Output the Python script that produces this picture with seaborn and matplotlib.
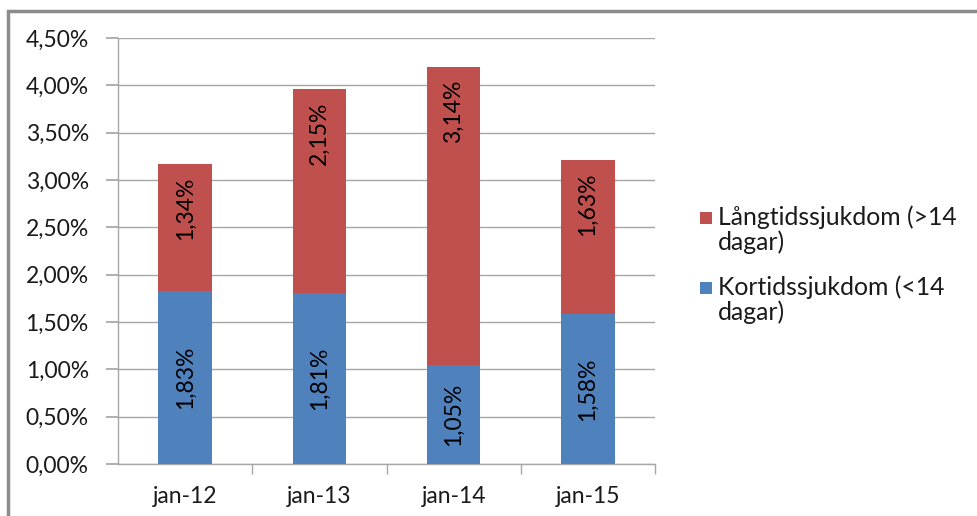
import matplotlib
matplotlib.use("Agg")
import matplotlib.pyplot as plt
import seaborn as sns
import pandas as pd
from matplotlib.patches import Rectangle
from matplotlib.ticker import MultipleLocator, FuncFormatter

categories = ["jan-12", "jan-13", "jan-14", "jan-15"]
kort = [1.83, 1.81, 1.05, 1.58]
lang = [1.34, 2.15, 3.14, 1.63]
series_names = ["Långtidssjukdom (>14\ndagar)", "Kortidssjukdom (<14\ndagar)"]

BLUE = "#4F81BD"
RED = "#C0504D"

sns.set_theme(style="white")
plt.rcParams["font.family"] = ["Lato", "DejaVu Sans"]

df = pd.DataFrame({"cat": categories, "kort": kort, "lang": lang})
df["total"] = df["kort"] + df["lang"]

W, H = 978, 516
fig = plt.figure(figsize=(W/100, H/100), dpi=100)
ax = fig.add_axes([118/W, 1-464/H, (655-118)/W, (464-38)/H])

sns.barplot(data=df, x="cat", y="total", color=RED, saturation=1, width=0.4, ax=ax,
            zorder=3, linewidth=0)
sns.barplot(data=df, x="cat", y="kort", color=BLUE, saturation=1, width=0.4, ax=ax,
            zorder=3, linewidth=0)

FS = 16.5
for i, (k, l) in enumerate(zip(kort, lang)):
    ax.text(i, k/2, f"{k:.2f}%".replace(".", ","), rotation=90, ha="center", va="center",
            fontsize=FS, color="black", zorder=4)
    ax.annotate(f"{l:.2f}%".replace(".", ","), xy=(i, k + l), xytext=(0, -9),
                textcoords="offset points", rotation=90, ha="center", va="top",
                fontsize=FS, color="black", zorder=4)

ax.set_ylim(0, 4.5)
ax.set_xlim(-0.5, 3.5)
ax.yaxis.set_major_locator(MultipleLocator(0.5))
ax.yaxis.set_major_formatter(FuncFormatter(lambda v, p: f"{v:.2f}%".replace(".", ",")))
ax.grid(axis="y", color="#A6A6A6", linewidth=1, zorder=0)
ax.set_axisbelow(True)
ax.set_xlabel("")
ax.set_ylabel("")
for s in ["top", "right"]:
    ax.spines[s].set_visible(False)
for s in ["left", "bottom"]:
    ax.spines[s].set_color("#A6A6A6")
    ax.spines[s].set_linewidth(1)
ax.tick_params(axis="y", which="major", direction="out", length=9, color="#A6A6A6",
               labelsize=FS, pad=12, left=True)
ax.tick_params(axis="x", which="major", length=0, labelsize=FS, pad=16)
ax.set_xticks([0.5, 1.5, 2.5, 3.5], minor=True)
ax.tick_params(axis="x", which="minor", direction="out", length=7, color="#A6A6A6", bottom=True)
for t in ax.get_yticklabels() + ax.get_xticklabels():
    t.set_color("#1a1a1a")

# legend (square aligned with the first line of each wrapped entry)
LFS = 17.8
for j, (name, col) in enumerate(zip(series_names, [RED, BLUE])):
    y0 = 212 + j * 70
    fig.add_artist(Rectangle((700/W, 1-(y0+12)/H), 12/W, 12/H, transform=fig.transFigure,
                             facecolor=col, edgecolor="none"))
    fig.text(718/W, 1-(y0-7)/H, name, ha="left", va="top", fontsize=LFS,
             color="#1a1a1a", linespacing=1.1)

# outer frame
fig.add_artist(Rectangle((8/W, -0.1), 1.2, 0.1 + (H-11)/H, transform=fig.transFigure,
                         fill=False, edgecolor="#8C8C8C", linewidth=2.5))

fig.savefig("out.png", dpi=100)
